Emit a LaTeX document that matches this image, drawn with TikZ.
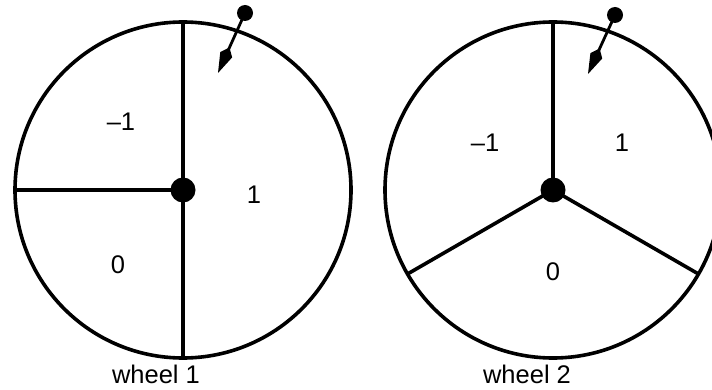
\documentclass[tikz,border=0pt]{standalone}
\usepackage{fontspec}
\setmainfont{Liberation Sans}
\usetikzlibrary{positioning, arrows.meta}

\begin{document}
\begin{tikzpicture}[x=1pt, y=-1pt,
    every node/.style={font=\fontsize{25.5}{30}\selectfont},
    wheel/.style={circle, draw, line width=3.6pt, minimum size=336pt,
      inner sep=0pt, outer sep=0pt},
    hub/.style={circle, fill, minimum size=25pt, inner sep=0pt},
    knob/.style={circle, fill, minimum size=16pt, inner sep=0pt},
    spoke/.style={line width=3.6pt},
    needle/.style={line width=2.8pt,
      -{Kite[length=28pt, width=13pt, inset=8pt]}}]

  \useasboundingbox (0,0) rectangle (712,390);

  % wheel 1
  \node[wheel] (w1) at (183,190) {};
  \draw[spoke] (w1.center) -- (w1.north);
  \draw[spoke] (w1.center) -- (w1.south);
  \draw[spoke] (w1.center) -- (w1.west);
  \node[hub] (c1) at (w1.center) {};
  \node (a1) at (121,122) {–1};
  \node (b1) at (254,195) {1};
  \node (z1) at (118,265) {0};
  \node[knob] (k1) at (245,13) {};
  \coordinate (t1) at (218,73);
  \draw[needle] (k1.center) -- (t1);
  \node (n1) at (156,374) {wheel 1};

  % wheel 2
  \node[wheel] (w2) at (553,190) {};
  \draw[spoke] (w2.center) -- (w2.north);
  \draw[spoke] (w2.center) -- (w2.210);
  \draw[spoke] (w2.center) -- (w2.330);
  \node[hub] (c2) at (w2.center) {};
  \node (a2) at (485,143) {–1};
  \node (b2) at (622,143) {1};
  \node (z2) at (553,272) {0};
  \node[knob] (k2) at (615,15) {};
  \coordinate (t2) at (588,74);
  \draw[needle] (k2.center) -- (t2);
  \node (n2) at (527,374) {wheel 2};
\end{tikzpicture}
\end{document}
